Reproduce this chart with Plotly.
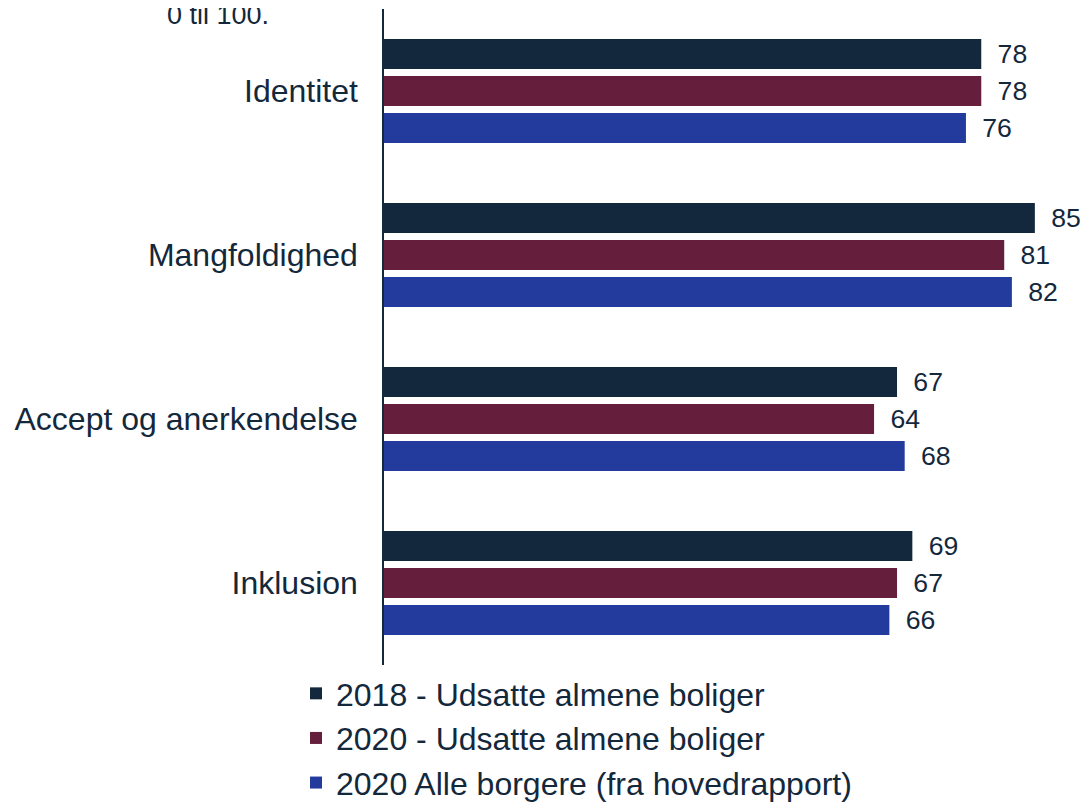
import plotly.graph_objects as go

categories = ["Identitet", "Mangfoldighed", "Accept og anerkendelse", "Inklusion"]
series_names = [
    "2018 - Udsatte almene boliger",
    "2020 - Udsatte almene boliger",
    "2020 Alle borgere (fra hovedrapport)",
]
values_2018 = [78, 85, 67, 69]
values_2020 = [78, 81, 64, 67]
values_alle = [76, 82, 68, 66]
colors = ["#13283c", "#651e3b", "#243b9e"]

text_col = "#14283c"
font_name = "Liberation Sans, Arial, sans-serif"

fig = go.Figure()
for name, vals, col in zip(series_names, [values_2018, values_2020, values_alle], colors):
    fig.add_trace(go.Bar(
        y=categories, x=vals, name=name, orientation="h",
        marker=dict(color=col, line=dict(width=0)),
        text=vals, texttemplate="\u2002%{x}", textposition="outside", cliponaxis=False,
        textfont=dict(size=32, color=text_col, family=font_name),
    ))

# page body adds ~8px margin, so the figure is 8px smaller than the window
fig.update_layout(
    width=1081, height=794,
    margin=dict(l=376, r=0, t=1, b=137, autoexpand=False),
    paper_bgcolor="white", plot_bgcolor="white",
    font=dict(family=font_name, size=32, color=text_col),
    barmode="group", bargap=0.323, bargroupgap=0.19,
    showlegend=True,
    legend=dict(
        orientation="v", x=-0.1248, xanchor="left", y=-0.0016, yanchor="top",
        font=dict(size=32, color=text_col),
        bgcolor="rgba(0,0,0,0)",
    ),
    xaxis=dict(range=[0, 92.07], visible=False, showgrid=False, zeroline=False),
    yaxis=dict(
        autorange="reversed", showline=True, linecolor="#14283c", linewidth=1.5,
        ticks="", ticklabelstandoff=18, showgrid=False, automargin=False,
        tickfont=dict(size=32, color=text_col),
    ),
    annotations=[dict(
        text="0 til 100.", xref="paper", yref="paper", x=-0.3106, y=0.9909,
        xanchor="left", yanchor="middle", showarrow=False,
        font=dict(size=27, color=text_col, family=font_name),
    )],
)

fig.write_html("out.html")
